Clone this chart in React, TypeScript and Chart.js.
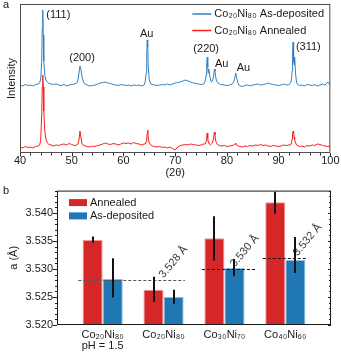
import React, { useEffect, useRef } from 'react';
import { Chart, registerables } from 'chart.js';

Chart.register(...registerables);

const FONT = "'Liberation Sans', Arial, Helvetica, sans-serif";
const TEXT = '#1a1a1a';
const BLUE_LINE = '#3282c2';
const RED_LINE = '#ff1c1c';
const BAR_RED = '#d62728';
const BAR_BLUE = '#1f77b4';

// ---------- Panel a : XRD patterns ----------
const twoTheta = [
  40, 40.5, 41, 41.5, 42, 42.5, 43, 43.5,
  43.8, 44.0, 44.2, 44.3, 44.4, 44.5, 44.6, 44.8, 45.0, 45.3,
  45.5, 46, 46.5, 47, 47.5, 48, 48.5, 49, 49.5, 50, 50.5, 51,
  51.2, 51.4, 51.6, 51.8, 52.0, 52.3,
  52.6, 53, 53.5, 54, 54.5, 55, 55.5, 56, 56.5, 57, 57.5, 58, 58.5, 59, 59.5, 60, 60.5, 61, 61.5, 62, 62.5, 63, 63.5, 64,
  64.2, 64.4, 64.5, 64.6, 64.7, 64.8, 65.0, 65.3,
  65.6, 66, 66.5, 67, 67.5, 68, 68.5, 69, 69.5, 70, 70.5, 71, 71.5, 72, 72.5, 73, 73.5, 74, 74.5, 75, 75.5,
  75.8, 76.0, 76.1, 76.2, 76.3, 76.4, 76.5, 76.6, 76.8, 77.0, 77.2, 77.4, 77.6, 77.7, 77.8, 78.0, 78.3,
  78.6, 79, 79.5, 80, 80.5, 81, 81.3,
  81.5, 81.7, 81.9, 82.2,
  82.5, 83, 83.5, 84, 84.5, 85, 85.5, 86, 86.5, 87, 87.5, 88, 88.5, 89, 89.5, 90, 90.5, 91, 91.5, 92,
  92.3, 92.5, 92.6, 92.7, 92.8, 92.9, 93.0, 93.1, 93.3, 93.5,
  93.8, 94, 94.5, 95, 95.5, 96, 96.5, 97, 97.5, 98, 98.5, 99, 99.5, 100,
];

const asDeposited = [
  68, 67, 68.5, 67.5, 68, 67, 68.5, 69,
  70, 74, 92, 125, 143, 118, 92, 78, 73, 71,
  70, 69, 68.5, 69, 68, 67.5, 68.5, 67, 68, 68.5, 69, 70,
  73, 80, 87, 83, 76, 71,
  69, 68, 67, 67.5, 68, 69, 70, 70.5, 71, 70, 69.5, 68.5, 68, 67.5, 68.5, 68, 67.5, 68, 67, 68, 67.5, 68, 67, 68,
  71, 80, 97, 113, 106, 86, 73, 69,
  68.5, 68, 67.5, 68, 68.5, 68, 69, 68, 69, 70, 70.5, 71, 72, 73, 72, 71, 70, 69.5, 69, 68.5, 69,
  72, 78, 88, 96, 86, 80, 84, 80, 74, 71, 72, 76, 84, 82, 77, 72, 70,
  69, 68.5, 68, 67.5, 68, 69, 71,
  74, 80, 75, 69,
  67, 66.5, 67.5, 68, 67, 68, 68.5, 69, 68, 68.5, 69, 70, 69, 68.5, 68, 67.5, 68, 69, 68, 68.5,
  70, 74, 82, 100, 111, 92, 88, 96, 78, 70,
  68, 67.5, 68, 67, 68.5, 68, 67.5, 68.5, 67, 68, 69, 68, 71, 68,
];

const annealed = [
  6, 5, 6.5, 5.5, 6, 5, 6.5, 7,
  8, 13, 38, 66, 78, 66, 42, 22, 14, 10,
  9, 8, 7, 8, 7.5, 8.5, 9, 8, 9.5, 8.5, 7.5, 8,
  9, 13, 22, 15, 9, 8,
  7, 6.5, 6, 7, 6.5, 7.5, 8, 9, 10, 9, 8.5, 9.5, 9, 8, 9, 10, 9.5, 10, 9, 10.5, 9.5, 9, 8, 9,
  9, 11, 14, 20, 23, 15, 10, 8,
  7, 6.5, 6, 6.5, 5.5, 6, 5, 6, 4.5, 3, 6, 7.5, 8, 8.5, 8, 9, 8.5, 8, 7.5, 8, 9,
  9, 12, 16, 20, 15, 11, 10, 9, 8, 9, 10, 14, 21, 18, 13, 10, 8,
  7.5, 7, 7.5, 6.5, 7, 7.5, 8,
  8, 10, 8, 7,
  6.5, 6, 7, 6.5, 7.5, 7, 8, 7.5, 8.5, 7.5, 8, 7, 6.5, 7.5, 7, 6.5, 7, 8, 7.5, 8,
  8, 10, 14, 19, 22, 20, 16, 13, 10, 8,
  7, 6.5, 7, 6, 7.5, 7, 8, 7.5, 9, 8.5, 7.5, 7, 6.5, 7,
];

const xrdSeriesNames = ['Co₂₀Ni₈₀ As-deposited', 'Co₂₀Ni₈₀ Annealed'];
const xrdTickValues = [40, 50, 60, 70, 80, 90, 100];
const peakLabels = ['(111)', '(200)', 'Au', '(220)', 'Au', 'Au', '(311)'];
const peakLabelTheta = [47.4, 52.0, 64.5, 76.0, 79.0, 83.2, 95.75];
const peakLabelIntensity = [138, 95, 119, 104, 89, 85, 106];

// ---------- Panel b : lattice parameter ----------
const samples = [['Co₂₀Ni₈₀', 'pH = 1.5'], ['Co₂₀Ni₈₀'], ['Co₃₀Ni₇₀'], ['Co₄₀Ni₆₀']];
const barSeriesNames = ['Annealed', 'As-deposited'];
const annealedA = [3.5352, 3.5263, 3.5355, 3.5419];
const annealedLo = [3.5347, 3.5241, 3.5315, 3.5399];
const annealedHi = [3.5358, 3.5286, 3.5394, 3.5438];
const depositedA = [3.5282, 3.5250, 3.5302, 3.5316];
const depositedLo = [3.5249, 3.5238, 3.5287, 3.5293];
const depositedHi = [3.5319, 3.5263, 3.5318, 3.5357];
const latticeTicks = [3.520, 3.525, 3.530, 3.535, 3.540];
const refValues = [3.528, 3.530, 3.532];
const refFrom = [-0.4, 1.63, 2.63];
const refTo = [1.35, 2.52, 3.35];
const refLabelAt = [1.0, 2.17, 3.2];

const xrdDecor = {
  id: 'xrdDecor',
  afterDraw(chart: any) {
    const { ctx, chartArea: ca, scales } = chart;
    const xs = scales.x;
    const ys = scales.y;
    ctx.save();
    // frame
    ctx.strokeStyle = '#4d4d4d';
    ctx.lineWidth = 1;
    ctx.strokeRect(ca.left + 0.5, ca.top + 0.5, ca.right - ca.left - 1, ca.bottom - ca.top - 1);
    // bottom ticks
    ctx.strokeStyle = '#333';
    ctx.beginPath();
    for (let v = xs.min; v <= xs.max + 1e-9; v += 2) {
      const px = Math.round(xs.getPixelForValue(v)) + 0.5;
      ctx.moveTo(px, ca.bottom);
      ctx.lineTo(px, ca.bottom + (v % 10 === 0 ? 3.5 : 2.5));
    }
    ctx.stroke();
    // peak labels
    ctx.font = `11px ${FONT}`;
    ctx.fillStyle = TEXT;
    ctx.textAlign = 'center';
    ctx.textBaseline = 'middle';
    peakLabels.forEach((t, i) => {
      ctx.fillText(t, xs.getPixelForValue(peakLabelTheta[i]), ys.getPixelForValue(peakLabelIntensity[i]));
    });
    // legend
    const rows = [ca.top + 10, ca.top + 26.5];
    chart.data.datasets.forEach((ds: any, i: number) => {
      const y = rows[i];
      ctx.strokeStyle = ds.borderColor;
      ctx.lineWidth = 1.5;
      ctx.beginPath();
      ctx.moveTo(ca.right - 138, y);
      ctx.lineTo(ca.right - 119, y);
      ctx.stroke();
      ctx.fillStyle = TEXT;
      ctx.textAlign = 'left';
      ctx.textBaseline = 'middle';
      ctx.fillText(ds.label, ca.right - 116, y);
    });
    // panel letter
    ctx.textBaseline = 'alphabetic';
    ctx.textAlign = 'left';
    ctx.fillText('a', 3, 8);
    ctx.restore();
  },
};

const latticeDecor = {
  id: 'latticeDecor',
  afterDatasetsDraw(chart: any) {
    const { ctx, scales } = chart;
    const xs = scales.x;
    const ys = scales.y;
    ctx.save();
    // reference dashed lines and labels
    refValues.forEach((v, i) => {
      const y = Math.round(ys.getPixelForValue(v)) + 0.5;
      ctx.strokeStyle = i === 0 ? '#555' : '#111';
      ctx.lineWidth = 1;
      ctx.setLineDash([3, 2]);
      ctx.beginPath();
      ctx.moveTo(xs.getPixelForValue(refFrom[i]), y);
      ctx.lineTo(xs.getPixelForValue(refTo[i]), y);
      ctx.stroke();
      ctx.setLineDash([]);
      ctx.save();
      ctx.translate(xs.getPixelForValue(refLabelAt[i]), y - 2);
      ctx.rotate(-50 * Math.PI / 180);
      ctx.font = `11px ${FONT}`;
      ctx.fillStyle = '#3a3a3a';
      ctx.textAlign = 'left';
      ctx.textBaseline = 'alphabetic';
      ctx.fillText(`${v.toFixed(3)} Å`, 0, 0);
      ctx.restore();
    });
    // error bars
    const los = [annealedLo, depositedLo];
    const his = [annealedHi, depositedHi];
    ctx.strokeStyle = '#111';
    ctx.lineWidth = 2;
    chart.data.datasets.forEach((_: any, d: number) => {
      const meta = chart.getDatasetMeta(d);
      meta.data.forEach((bar: any, j: number) => {
        const x = Math.round(bar.x);
        ctx.beginPath();
        ctx.moveTo(x, ys.getPixelForValue(his[d][j]));
        ctx.lineTo(x, ys.getPixelForValue(los[d][j]));
        ctx.stroke();
      });
    });
    ctx.restore();
  },
  afterDraw(chart: any) {
    const { ctx, chartArea: ca, scales } = chart;
    const ys = scales.y;
    ctx.save();
    ctx.strokeStyle = '#1a1a1a';
    ctx.lineWidth = 1;
    ctx.strokeRect(ca.left + 0.5, ca.top + 0.5, ca.right - ca.left - 1, ca.bottom - ca.top - 1);
    // y ticks: left outward, right inward
    ctx.beginPath();
    for (let k = 0; ys.min + k * 0.001 <= ys.max + 1e-9; k++) {
      const v = ys.min + k * 0.001;
      const py = Math.round(ys.getPixelForValue(v)) + 0.5;
      const major = k % 5 === 0;
      ctx.moveTo(ca.left, py);
      ctx.lineTo(ca.left - (major ? 4 : 2), py);
      ctx.moveTo(ca.right, py);
      ctx.lineTo(ca.right - (major ? 3 : 2), py);
    }
    ctx.stroke();
    // legend
    const rows = [ca.top + 12, ca.top + 25.3];
    ctx.font = `11px ${FONT}`;
    chart.data.datasets.forEach((ds: any, i: number) => {
      const y = rows[i];
      ctx.fillStyle = ds.backgroundColor;
      ctx.fillRect(ca.left + 12, y - 3.5, 18, 7);
      ctx.fillStyle = TEXT;
      ctx.textAlign = 'left';
      ctx.textBaseline = 'middle';
      ctx.fillText(ds.label, ca.left + 33, y);
    });
    ctx.textBaseline = 'alphabetic';
    ctx.fillText('b', 3, 14);
    ctx.restore();
  },
};

function XrdPanel() {
  const ref = useRef<HTMLCanvasElement>(null);
  useEffect(() => {
    const chart = new Chart(ref.current as HTMLCanvasElement, {
      type: 'line',
      data: {
        datasets: [
          {
            label: xrdSeriesNames[0],
            data: twoTheta.map((x, i) => ({ x, y: asDeposited[i] })),
            borderColor: BLUE_LINE,
            borderWidth: 1,
            pointRadius: 0,
            tension: 0,
            fill: false,
          },
          {
            label: xrdSeriesNames[1],
            data: twoTheta.map((x, i) => ({ x, y: annealed[i] })),
            borderColor: RED_LINE,
            borderWidth: 1,
            pointRadius: 0,
            tension: 0,
            fill: false,
          },
        ],
      },
      options: {
        animation: false,
        responsive: false,
        devicePixelRatio: 1,
        layout: { padding: { left: 0, right: 10, top: 4, bottom: 0 } },
        plugins: { legend: { display: false }, tooltip: { enabled: false } },
        scales: {
          x: {
            type: 'linear',
            min: 40,
            max: 100,
            afterBuildTicks: (s: any) => { s.ticks = xrdTickValues.map((value) => ({ value })); },
            afterFit: (s: any) => { s.height = 27; },
            grid: { display: false, drawTicks: false },
            border: { display: false },
            ticks: { padding: 1.5, color: TEXT, font: { size: 11, family: FONT }, maxRotation: 0, autoSkip: false },
            title: { display: true, text: '(2θ)', color: TEXT, font: { size: 11, family: FONT }, padding: 0 },
          },
          y: {
            type: 'linear',
            min: 0,
            max: 149,
            afterFit: (s: any) => { s.width = 20; },
            ticks: { display: false },
            grid: { display: false, drawTicks: false },
            border: { display: false },
            title: { display: true, text: 'Intensity', color: TEXT, font: { size: 11, family: FONT }, padding: { top: 5, bottom: 0 } },
          },
        },
      },
      plugins: [xrdDecor],
    } as any);
    return () => chart.destroy();
  }, []);
  return <canvas ref={ref} width={341} height={180} style={{ position: 'absolute', left: 0, top: 0, display: 'block' }} />;
}

function LatticePanel() {
  const ref = useRef<HTMLCanvasElement>(null);
  useEffect(() => {
    const chart = new Chart(ref.current as HTMLCanvasElement, {
      type: 'bar',
      data: {
        datasets: [
          {
            label: barSeriesNames[0],
            data: annealedA.map((y, i) => ({ x: i, y })),
            backgroundColor: BAR_RED,
            borderColor: '#ec9a9a',
            borderWidth: 1,
            categoryPercentage: 0.66,
            barPercentage: 1,
          },
          {
            label: barSeriesNames[1],
            data: depositedA.map((y, i) => ({ x: i, y })),
            backgroundColor: BAR_BLUE,
            borderColor: '#8cbde3',
            borderWidth: 1,
            categoryPercentage: 0.66,
            barPercentage: 1,
          },
        ],
      },
      options: {
        animation: false,
        responsive: false,
        devicePixelRatio: 1,
        layout: { padding: { left: 0, right: 10, top: 9, bottom: 0 } },
        plugins: { legend: { display: false }, tooltip: { enabled: false } },
        scales: {
          x: {
            type: 'linear',
            min: -0.75,
            max: 3.75,
            offset: false,
            afterBuildTicks: (s: any) => { s.ticks = samples.map((_, i) => ({ value: i })); },
            afterFit: (s: any) => { s.height = 34; },
            grid: { display: false, drawTicks: false },
            border: { display: false },
            ticks: {
              padding: 4.5,
              color: TEXT,
              font: { size: 11, family: FONT, lineHeight: 1.0 },
              maxRotation: 0,
              autoSkip: false,
              callback: (v: any) => samples[Math.round(v)] ?? '',
            },
          },
          y: {
            type: 'linear',
            min: 3.52,
            max: 3.544,
            afterBuildTicks: (s: any) => { s.ticks = latticeTicks.map((value) => ({ value })); },
            afterFit: (s: any) => { s.width = 57; },
            grid: { display: false, drawTicks: false },
            border: { display: false },
            ticks: {
              padding: 4,
              color: TEXT,
              font: { size: 11, family: FONT },
              autoSkip: false,
              callback: (v: any) => Number(v).toFixed(3),
            },
            title: { display: true, text: 'a (Å)', color: TEXT, font: { size: 11, family: FONT }, padding: { top: 7.5, bottom: 0 } },
          },
        },
      },
      plugins: [latticeDecor],
    } as any);
    return () => chart.destroy();
  }, []);
  return <canvas ref={ref} width={341} height={179} style={{ position: 'absolute', left: 0, top: 180, display: 'block' }} />;
}

export default function App() {
  return (
    <div style={{ position: 'absolute', left: 0, top: 0, width: 341, height: 359, background: '#fff' }}>
      <XrdPanel />
      <LatticePanel />
    </div>
  );
}
